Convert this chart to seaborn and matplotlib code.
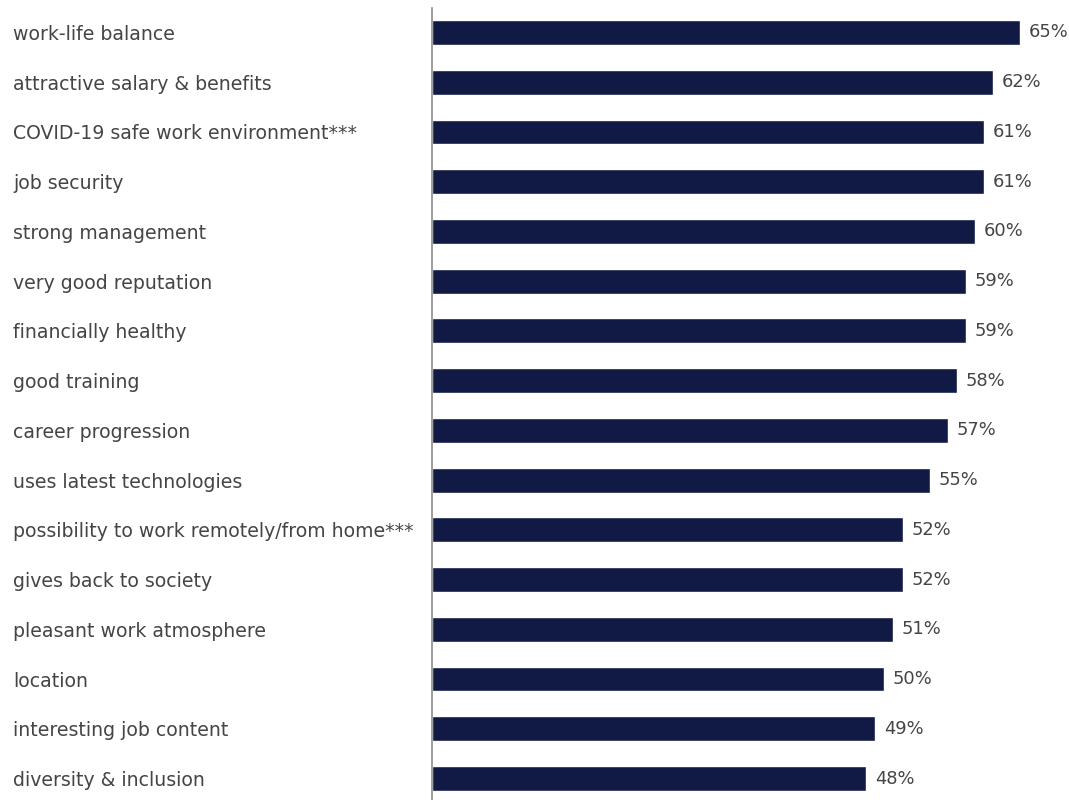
import matplotlib
matplotlib.use("Agg")
import matplotlib.pyplot as plt
import seaborn as sns
import pandas as pd

categories = [
    "work-life balance",
    "attractive salary & benefits",
    "COVID-19 safe work environment***",
    "job security",
    "strong management",
    "very good reputation",
    "financially healthy",
    "good training",
    "career progression",
    "uses latest technologies",
    "possibility to work remotely/from home***",
    "gives back to society",
    "pleasant work atmosphere",
    "location",
    "interesting job content",
    "diversity & inclusion",
]
values = [65, 62, 61, 61, 60, 59, 59, 58, 57, 55, 52, 52, 51, 50, 49, 48]

df = pd.DataFrame({"category": categories, "value": values})

sns.set_theme(style="white")
plt.rcParams["font.family"] = ["DejaVu Sans"]

W, H = 1069, 800
fig = plt.figure(figsize=(W / 100, H / 100), dpi=100)
ax = fig.add_axes([432 / W, -3.4 / H, (W - 432) / W, 795.8 / H])

sns.barplot(data=df, x="value", y="category", color="#111a45", width=0.5,
            saturation=1, ax=ax, orient="h")

ax.set_xlim(0, 70.4)
ax.set_xlabel("")
ax.set_ylabel("")
ax.set_xticks([])
for s in ["top", "right", "bottom"]:
    ax.spines[s].set_visible(False)
ax.spines["left"].set_color("#8c8c8c")
ax.spines["left"].set_linewidth(1.2)

FS = 13.6
ax.tick_params(axis="y", length=0, pad=(432 - 13) * 72 / 100)
for lbl in ax.get_yticklabels():
    lbl.set_horizontalalignment("left")
    lbl.set_color("#454545")
    lbl.set_fontsize(FS)

for i, v in enumerate(values):
    ax.text(v + 0.95, i, f"{v}%", va="center", ha="left", color="#454545",
            fontsize=12.9, clip_on=False)

fig.savefig("out.png", dpi=100)
